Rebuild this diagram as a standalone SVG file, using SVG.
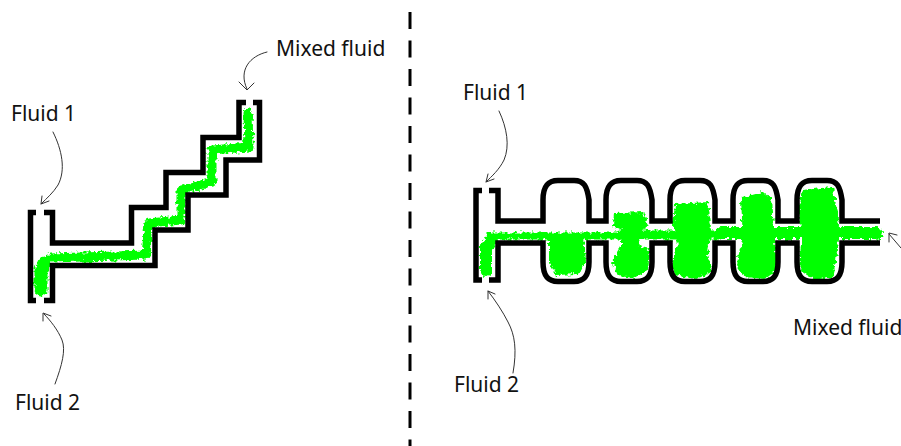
<svg xmlns="http://www.w3.org/2000/svg" width="901" height="446" viewBox="0 0 901 446">
<style>
text{font-family:"Noto Sans","Open Sans","Liberation Sans",sans-serif;font-size:21px;fill:#111}
.w{fill:none;stroke:#000;stroke-width:5.500;stroke-linejoin:miter;stroke-linecap:butt}
.g{fill:none;stroke:#00ff00;stroke-linecap:round;stroke-linejoin:round}
.b{fill:#00ff00;stroke:none}
.a{fill:none;stroke:#333;stroke-width:1;stroke-linecap:round;stroke-linejoin:round}
</style>
<defs>
<filter id="rough" x="-10%" y="-10%" width="120%" height="120%">
<feTurbulence type="fractalNoise" baseFrequency="0.28" numOctaves="2" seed="4"/>
<feDisplacementMap in="SourceGraphic" scale="7" xChannelSelector="R" yChannelSelector="G"/>
</filter>
</defs>
<rect width="901" height="446" fill="#fff"/>
<line id="divider" x1="410" y1="12" x2="410" y2="446" stroke="#000" stroke-width="3" stroke-dasharray="17 11.500"/>
<g id="stepped-mixer">
<g filter="url(#rough)">
<path class="g" stroke-width="9" d="M248 113L249 147L212 150L212 182L181 190L181 220L149 223L146 255L50 258"/>
<path class="g" stroke-width="13" d="M44 263L41 270L41 290"/>
</g>
<path class="w" d="M36 212.500H30.500V300.500H36"/>
<path class="w" d="M44 212.500H52.500V243H131.500V207.500H166V172.500H203V137.500H239V102.500H246"/>
<path class="w" d="M253 102.500H259.500V160H226V195H188V230H155V265.500H52.500V300.500H44"/>
</g>
<g id="chamber-mixer">
<g filter="url(#rough)">
<path class="g" stroke-width="7" d="M490 236H620"/>
<path class="g" stroke-width="9" d="M620 235H720"/>
<path class="g" stroke-width="12" d="M720 233H877"/>
<path class="g" stroke-width="12" d="M492 239L486 248L486 270"/>
<path class="b" d="M549 234L584 236L586 262L578 274L556 275L549 262Z"/>
<path class="b" d="M614 213L644 212L648 226L638 233L640 246L650 250L648 270L635 278L618 276L612 262L621 246V230L613 226Z"/>
<path class="b" d="M675 204L708 202L711 225L708 255L712 272L696 279L674 275L671 262L678 245L673 225Z"/>
<path class="b" d="M741 198L763 192L772 200L775 240L777 270L765 279L744 277L736 265L743 240Z"/>
<path class="b" d="M802 190L833 187L839 225L836 262L832 277L815 280L799 270L802 232L798 212Z"/>
</g>
<path class="w" d="M482 190.500H476V280H482"/>
<path class="w" d="M489 190.500H498V221H543V200C543 186 548 180.500 558 180.500H574C584 180.500 587 186 589 200V221H606V200C606 186 611 180.500 621 180.500H637C647 180.500 650 186 652 200V221H670V200C670 186 675 180.500 685 180.500H700C710 180.500 713 186 715 200V221H733V200C733 186 738 180.500 748 180.500H763C773 180.500 776 186 778 200V221H797V200C797 186 802 180.500 812 180.500H827C837 180.500 840 186 842 200V221H880"/>
<path class="w" d="M880 243H842V262C842 276 837 281.500 827 281.500H812C802 281.500 797 276 797 262V243H778V262C778 276 773 281.500 763 281.500H748C738 281.500 733 276 733 262V243H715V262C715 276 710 281.500 700 281.500H685C675 281.500 670 276 670 262V243H652V262C652 276 647 281.500 637 281.500H621C611 281.500 606 276 606 262V243H589V262C589 276 584 281.500 574 281.500H558C548 281.500 543 276 543 262V243H498V280H489"/>
</g>
<g id="connectors">
<path class="a" d="M267 52C250 56 238 70 247 89M239 82L247 90L254 83"/>
<path class="a" d="M53 132C62 150 66 170 58 185C53 193 47 198 41 204M49 201L41 204L42 196"/>
<path class="a" d="M55 384C62 365 66 350 62 340C58 330 50 320 44 314M43 321L43 313L51 316"/>
<path class="a" d="M499 111C507 128 510 146 504 160C499 170 492 176 486 182M494 179L486 182L488 174"/>
<path class="a" d="M513 373C517 350 515 335 508 322C503 312 495 300 488 291M488 299L488 291L495 294"/>
<path class="a" d="M901 248L889 234M889 242L889 233L897 235"/>
</g>
<g id="labels">
<text x="276" y="56">Mixed fluid</text>
<text x="11" y="121">Fluid 1</text>
<text x="15" y="410">Fluid 2</text>
<text x="463" y="100">Fluid 1</text>
<text x="454" y="392">Fluid 2</text>
<text x="793" y="335">Mixed fluid</text>
</g>
</svg>
